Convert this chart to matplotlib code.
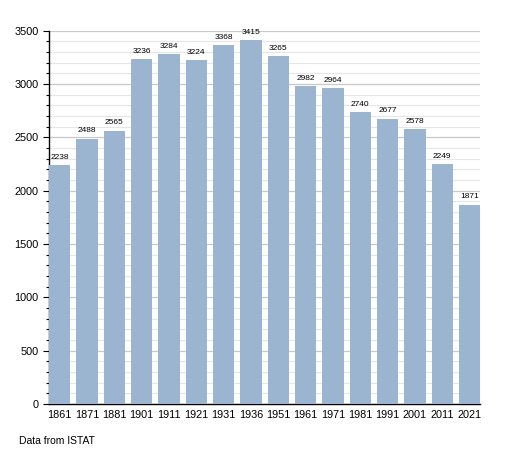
import matplotlib.pyplot as plt
from matplotlib.ticker import MultipleLocator
import numpy as np

years = ["1861", "1871", "1881", "1901", "1911", "1921", "1931", "1936",
         "1951", "1961", "1971", "1981", "1991", "2001", "2011", "2021"]
population = [2238, 2488, 2565, 3236, 3284, 3224, 3368, 3415,
              3265, 2982, 2964, 2740, 2677, 2578, 2249, 1871]

plt.rcParams['font.family'] = ['Liberation Sans', 'DejaVu Sans']

fig = plt.figure(figsize=(5.08, 4.53), dpi=100)
ax = fig.add_axes([0.0965, 0.108, 0.849, 0.824])

x = np.arange(len(years))
width = 0.78
bars = ax.bar(x, population, width=width, color='#9bb4cf', zorder=3)

for xi, v in zip(x, population):
    ax.text(xi, v + 40, str(v), ha='center', va='bottom', fontsize=6, zorder=4)

ax.set_xlim(-width / 2, len(years) - 1 + width / 2)
ax.set_ylim(0, 3500)
ax.yaxis.set_major_locator(MultipleLocator(500))
ax.yaxis.set_minor_locator(MultipleLocator(100))
ax.grid(which='major', axis='y', color='#c8c8c8', linewidth=0.9, zorder=0)
ax.grid(which='minor', axis='y', color='#e6e6e6', linewidth=0.8, zorder=0)

ax.set_xticks(x)
ax.set_xticklabels(years)
ax.tick_params(axis='x', length=0, labelsize=7.8, pad=4)
ax.tick_params(axis='y', which='major', length=4, labelsize=7.8, width=0.8)
ax.tick_params(axis='y', which='minor', length=2, width=0.8)

for side in ['top', 'right']:
    ax.spines[side].set_visible(False)
ax.spines['left'].set_linewidth(1.0)
ax.spines['bottom'].set_linewidth(1.0)

fig.text(19 / 508, 1 - 441 / 453, "Data from ISTAT", fontsize=7.5, va='center')

fig.savefig("out.png", dpi=100)
